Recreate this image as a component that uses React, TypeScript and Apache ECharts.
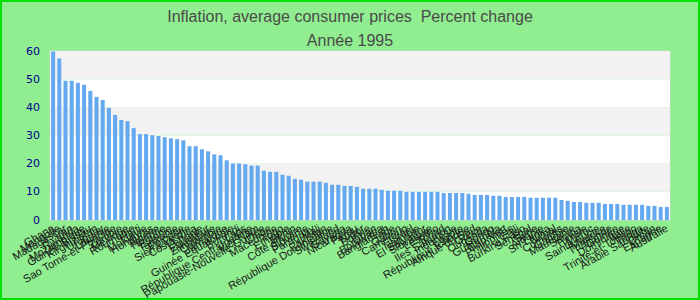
import React, { useEffect, useRef } from "react";
import * as echarts from "echarts";

const countries: string[] = [
  "Ghana", "Mongolie", "Madagascar", "Iran", "Rwanda", "Mozambique", "Guinée-Bissau", "Kirghizistan", "Uruguay", "Lituanie",
  "Sao Tome-et-Principe", "Zambie", "Mexique", "Roumanie", "Haïti", "Moldavie", "Honduras", "Algérie", "Hongrie", "Estonie",
  "Tanzanie", "Pologne", "Sierra Leone", "Costa Rica", "Lettonie", "Equateur", "Zimbabwe", "Colombie", "Jamaïque", "Guinée Equatoriale",
  "Burundi", "Laos", "République Centrafricaine", "Viet Nam", "Papouasie-Nouvelle-Guinée", "Chine", "Macédoine", "Togo", "Ethiopie", "Bénin",
  "Côte d'Ivoire", "Slovénie", "Paraguay", "Mali", "Pakistan", "République Dominicaine", "Swaziland", "Guyana", "Nicaragua", "Pérou",
  "Niger", "Bolivie", "Liban", "Botswana", "Bangladesh", "Inde", "Gabon", "Cameroun", "Israël", "Namibie",
  "El Salvador", "Slovaquie", "Lesotho", "Tchad", "Iles Salomon", "Indonésie", "Egypte", "République tchèque", "Afrique du Sud", "Grèce",
  "Ouganda", "Congo", "Guatemala", "Cap-Vert", "Philippines", "Chili", "Burkina Faso", "Sénégal", "Syrie", "Albanie",
  "Sri Lanka", "Népal", "Comores", "Gambie", "Mauritanie", "Samoa", "Tunisie", "Maroc", "Sainte-Lucie", "Maurice",
  "Thaïlande", "Guinée", "Dominique", "Italie", "Trinité-et-Tobago", "Tonga", "Arabie Saoudite", "Oman", "Espagne", "Australie",
];

const inflation: number[] = [
  59.8, 57.3, 49.4, 49.4, 48.7, 48.0, 45.8, 43.7, 42.6, 39.8,
  37.3, 35.5, 35.1, 32.6, 30.5, 30.5, 30.1, 29.8, 29.4, 29.0,
  28.7, 28.3, 26.2, 26.2, 25.1, 24.4, 23.3, 23.0, 21.2, 20.1,
  20.1, 19.8, 19.3, 19.3, 17.5, 17.1, 17.1, 16.1, 15.7, 14.6,
  14.3, 13.6, 13.6, 13.6, 13.2, 12.5, 12.5, 12.1, 12.1, 11.8,
  11.1, 11.1, 11.1, 10.7, 10.4, 10.4, 10.4, 10.0, 10.0, 10.0,
  10.0, 10.0, 10.0, 9.6, 9.6, 9.6, 9.6, 9.3, 8.9, 8.9,
  8.9, 8.6, 8.6, 8.2, 8.2, 8.2, 8.2, 7.9, 7.9, 7.9,
  7.9, 7.9, 7.1, 6.8, 6.4, 6.4, 6.1, 6.1, 6.1, 5.7,
  5.7, 5.7, 5.4, 5.4, 5.4, 5.4, 5.0, 5.0, 4.6, 4.6,
];

const titleText = "Inflation, average consumer prices  Percent change";
const subtitleText = "Année 1995";

export default function App() {
  const ref = useRef<HTMLDivElement>(null);
  useEffect(() => {
    if (!ref.current) return;
    const chart = echarts.init(ref.current, null, { renderer: "svg" });
    chart.setOption({
      animation: false,
      backgroundColor: "#90ee90",
      textStyle: { fontFamily: "Liberation Sans, Arial, sans-serif" },
      title: [
        {
          text: titleText,
          left: "center",
          top: 3,
          textStyle: { color: "#4a4a4a", fontSize: 16, fontWeight: "normal", fontFamily: "Liberation Sans, Arial, sans-serif" },
        },
        {
          text: subtitleText,
          left: "center",
          top: 27,
          textStyle: { color: "#4a4a4a", fontSize: 16, fontWeight: "normal", fontFamily: "Liberation Sans, Arial, sans-serif" },
        },
      ],
      graphic: [
        {
          type: "rect",
          shape: { x: 1, y: 1, width: 698, height: 298 },
          style: { fill: "none", stroke: "#00e000", lineWidth: 2 },
          silent: true,
          z: 100,
        },
      ],
      grid: {
        left: 50,
        right: 30,
        top: 51,
        bottom: 80,
        outerBoundsMode: "none",
        containLabel: false,
        show: true,
        borderColor: "#d0d0d0",
        borderWidth: 1,
        backgroundColor: "transparent",
      },
      xAxis: {
        type: "category",
        data: countries,
        axisLine: { show: false },
        axisTick: { show: false },
        axisLabel: {
          interval: 0,
          rotate: 30,
          color: "#1a1a1a",
          fontSize: 11,
          margin: 7,
          fontFamily: "Liberation Sans, Arial, sans-serif",
        },
      },
      yAxis: {
        type: "value",
        min: 0,
        max: 60,
        interval: 10,
        axisLine: { show: false },
        axisTick: { show: false },
        splitLine: { show: false },
        splitArea: { show: true, areaStyle: { color: ["#ffffff", "#f2f2f2"] } },
        axisLabel: { color: "#00008b", fontSize: 11, margin: 10, fontFamily: "DejaVu Sans, sans-serif" },
      },
      series: [
        {
          type: "bar",
          data: inflation,
          barCategoryGap: "35%",
          itemStyle: { color: "#64a8f0" },
        },
      ],
    });
    return () => chart.dispose();
  }, []);
  return (
    <div
      ref={ref}
      style={{ position: "fixed", left: 0, top: 0, width: 700, height: 300 }}
    />
  );
}
